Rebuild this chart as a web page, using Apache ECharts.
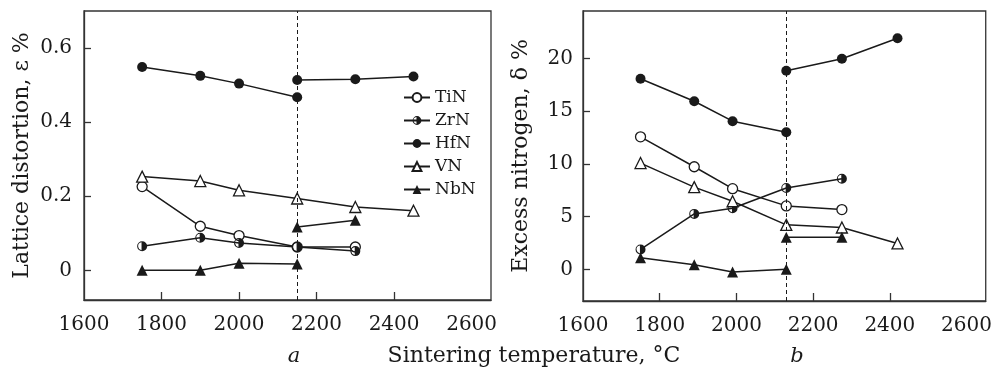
<!DOCTYPE html>
<html>
<head>
<meta charset="utf-8">
<script src="https://cdn.jsdelivr.net/npm/echarts@6/dist/echarts.min.js"></script>
<style>
  html, body { margin: 0; padding: 0; background: #fff; }
  #chart { width: 995px; height: 368px; }
</style>
</head>
<body>
<div id="chart"></div>
<script>
// panel a: lattice distortion, %
const tempA = [1750, 1900, 2000, 2150, 2300, 2450];
const tinA = [0.226, 0.119, 0.094, 0.063, 0.063];
const zrnA = [0.065, 0.088, 0.074, 0.063, 0.052];
const hfnA = [0.549, 0.525, 0.504, 0.467];
const hfnA2 = [0.514, 0.516, 0.523];        // from 2150 on
const vnA = [0.253, 0.241, 0.216, 0.194, 0.171, 0.161];
const nbnA = [0, 0, 0.019, 0.017];
const nbnA2 = [0.117, 0.135];               // from 2150 on
const dashA = 2150;

// panel b: excess nitrogen, %
const tempB = [1750, 1890, 1990, 2130, 2275, 2420];
const tinB = [12.57, 9.73, 7.65, 6.02, 5.67];
const zrnB = [1.89, 5.26, 5.8, 7.72, 8.6];
const hfnB = [18.08, 15.94, 14.05, 13.0];
const hfnB2 = [18.83, 19.97, 21.92];        // from 2130 on
const vnB = [10.08, 7.8, 6.46, 4.22, 3.97, 2.46];
const nbnB = [1.1, 0.44, -0.25, 0];
const nbnB2 = [3.05, 3.05];                 // from 2130 on
const dashB = 2130;

const xLabels = [1600, 1800, 2000, 2200, 2400, 2600];
const xTicks = [1800, 2000, 2200, 2400];
const yLabelsA = [0, 0.2, 0.4, 0.6];
const yLabelsB = [0, 5, 10, 15, 20];

const FONT = "DejaVu Serif";
const INK = "#1a1a1a";
const AXIS = "#333";

// circle, right half filled
const halfDisc = "path://M0,-10A10,10,0,0,1,10,0A10,10,0,0,1,0,10A10,10,0,0,1,-10,0A10,10,0,0,1,0,-10" +
  "L-1.2,-7.9A8,8,0,0,0,-1.2,7.9L-1.2,-7.9Z";

const markers = {
  TiN: { symbol: "circle", symbolSize: 10, itemStyle: { color: "#fff", borderColor: INK, borderWidth: 1.3 } },
  ZrN: { symbol: halfDisc, symbolSize: 10, itemStyle: { color: INK, borderWidth: 0 } },
  HfN: { symbol: "circle", symbolSize: 10, itemStyle: { color: INK, borderColor: INK, borderWidth: 0 } },
  VN: { symbol: "triangle", symbolSize: 11, itemStyle: { color: "#fff", borderColor: INK, borderWidth: 1.3 } },
  NbN: { symbol: "triangle", symbolSize: 11, itemStyle: { color: INK, borderColor: INK, borderWidth: 0 } },
};

function pairs(xs, ys) {
  return ys.map((y, i) => [xs[i], y]);
}

function line(name, panel, data) {
  return Object.assign({
    name: name,
    type: "line",
    xAxisIndex: panel,
    yAxisIndex: panel,
    data: data,
    showAllSymbol: true,
    lineStyle: { color: INK, width: 1.5 },
    emphasis: { disabled: true },
    z: 3,
  }, markers[name]);
}

function dashed(x) {
  return {
    symbol: "none",
    silent: true,
    label: { show: false },
    lineStyle: { type: [4, 3], color: INK, width: 1 },
    data: [{ xAxis: x }],
  };
}

function xAxis(i) {
  return {
    gridIndex: i,
    type: "value",
    min: 1600,
    max: 2650,
    interval: 200,
    axisLine: { show: true, onZero: false, lineStyle: { color: AXIS, width: 1.3 } },
    axisTick: { show: true, inside: true, length: 8, customValues: xTicks, lineStyle: { color: AXIS, width: 1.3 } },
    axisLabel: { customValues: xLabels, margin: 15, fontSize: 20, fontFamily: FONT, color: INK, formatter: (v) => String(v) },
    splitLine: { show: false },
  };
}

function yAxis(i, min, max, labels, name, margin, fmt) {
  return {
    gridIndex: i,
    type: "value",
    min: min,
    max: max,
    name: name,
    nameLocation: "middle",
    nameGap: 51,
    nameTextStyle: { fontSize: 22, fontFamily: FONT, color: INK },
    axisLine: { show: true, onZero: false, lineStyle: { color: AXIS, width: 1.3 } },
    axisTick: { show: true, inside: true, length: 7, customValues: labels, lineStyle: { color: AXIS, width: 1.3 } },
    axisLabel: { customValues: labels, margin: margin, fontSize: 20, fontFamily: FONT, color: INK, formatter: fmt },
    splitLine: { show: false },
  };
}

const chart = echarts.init(document.getElementById("chart"));

const vnSeriesA = line("VN", 0, pairs(tempA, vnA));
vnSeriesA.markLine = dashed(dashA);
const vnSeriesB = line("VN", 1, pairs(tempB, vnB));
vnSeriesB.markLine = dashed(dashB);

chart.setOption({
  animation: false,
  backgroundColor: "#fff",
  grid: [
    { left: 84, top: 11, width: 407, height: 289, show: true, borderColor: AXIS, borderWidth: 1.3 },
    { left: 583, top: 11, width: 405, height: 290, show: true, borderColor: AXIS, borderWidth: 1.3 },
  ],
  xAxis: [xAxis(0), xAxis(1)],
  yAxis: [
    yAxis(0, -0.08, 0.7, yLabelsA, "Lattice distortion, ε %", 12, (v) => (v === 0 ? "0" : v.toFixed(1))),
    yAxis(1, -3, 24.5, yLabelsB, "Excess nitrogen, δ %", 10, (v) => String(v)),
  ],
  legend: {
    data: ["TiN", "ZrN", "HfN", "VN", "NbN"],
    orient: "vertical",
    left: 403,
    top: 89,
    padding: 0,
    itemWidth: 26,
    itemHeight: 11,
    itemGap: 6,
    selectedMode: false,
    textStyle: { fontSize: 17, lineHeight: 14, fontFamily: FONT, color: INK },
  },
  graphic: [
    { type: "text", x: 534, y: 356, style: { text: "Sintering temperature, °C", font: "22px " + FONT, fill: INK, textAlign: "center", textVerticalAlign: "middle" } },
    { type: "text", x: 294, y: 357, style: { text: "a", font: "italic 21px " + FONT, fill: INK, textAlign: "center", textVerticalAlign: "middle" } },
    { type: "text", x: 797, y: 357, style: { text: "b", font: "italic 21px " + FONT, fill: INK, textAlign: "center", textVerticalAlign: "middle" } },
  ],
  series: [
    line("TiN", 0, pairs(tempA, tinA)),
    line("ZrN", 0, pairs(tempA, zrnA)),
    line("HfN", 0, pairs(tempA, hfnA)),
    line("HfN", 0, pairs(tempA.slice(3), hfnA2)),
    vnSeriesA,
    line("NbN", 0, pairs(tempA, nbnA)),
    line("NbN", 0, pairs(tempA.slice(3), nbnA2)),

    line("TiN", 1, pairs(tempB, tinB)),
    line("ZrN", 1, pairs(tempB, zrnB)),
    line("HfN", 1, pairs(tempB, hfnB)),
    line("HfN", 1, pairs(tempB.slice(3), hfnB2)),
    vnSeriesB,
    line("NbN", 1, pairs(tempB, nbnB)),
    line("NbN", 1, pairs(tempB.slice(3), nbnB2)),
  ],
});

window.addEventListener("resize", () => chart.resize());
</script>
</body>
</html>
